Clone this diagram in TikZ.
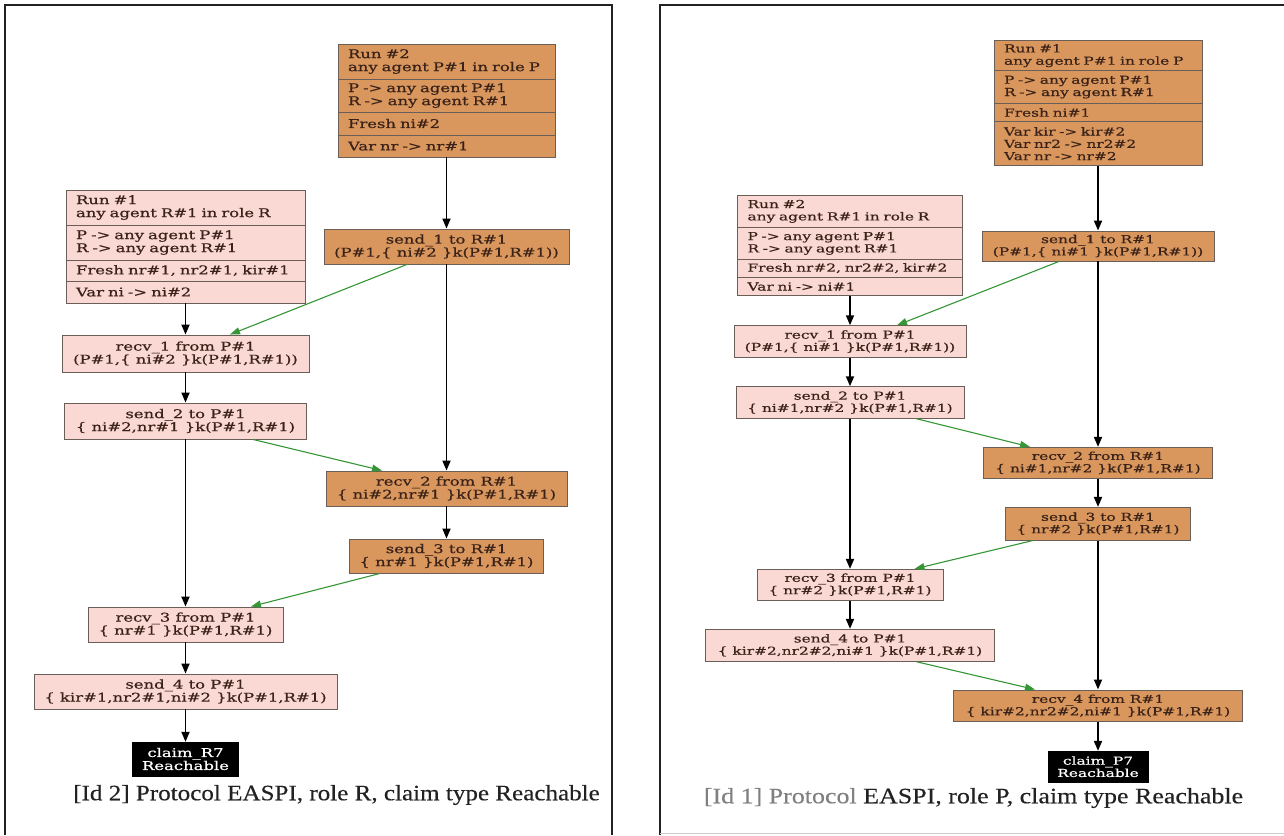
\documentclass[tikz,border=0pt]{standalone}
\usepackage{fontspec}
\usetikzlibrary{arrows.meta}
\newfontfamily\gvL[FakeStretch=1.37,FakeBold=0.6]{DejaVu Serif}
\newfontfamily\gvR[FakeStretch=1.40,FakeBold=0.6]{DejaVu Serif}
\newfontfamily\capF[FakeStretch=1.14,FakeBold=0.3]{Liberation Serif}
\newfontfamily\capG[FakeStretch=1.18,FakeBold=0.3]{Liberation Serif}
\newcommand\ftL{\gvL\fontsize{12pt}{13pt}\selectfont}
\newcommand\ftR{\gvR\fontsize{11pt}{12.3pt}\selectfont}
\newcommand\nw[1]{\mbox{#1}}
\definecolor{orf}{HTML}{D9975E}
\definecolor{pkf}{HTML}{FAD9D5}
\definecolor{bl}{HTML}{6A5F58}
\definecolor{tx}{HTML}{3A2218}
\definecolor{gr}{HTML}{359635}
\definecolor{frm}{HTML}{222222}
\tikzset{
  box/.style={draw=bl, line width=0.9pt, inner sep=0pt, text=tx, align=center},
  pk/.style={box, fill=pkf},
  og/.style={box, fill=orf},
  sz/.style 2 args={minimum width=#1pt, minimum height=#2pt},
  rowl/.style={inner xsep=10pt, align=left, text width=#1pt},
  claimbox/.style={fill=black, draw=black, text=white, inner sep=0pt, align=center},
  flow/.style={draw=black, line width=1.8pt, -{Triangle[length=10pt,width=8pt]}},
  msg/.style={draw=gr, line width=1.1pt, -{Triangle[length=10pt,width=7pt]}},
  Lf/.style={font=\ftL},
  Rf/.style={font=\ftR},
}
\begin{document}
\begin{tikzpicture}[x=1pt,y=-1pt]
\useasboundingbox (0,0) rectangle (1284,835);
\fill[white] (0,0) rectangle (1284,835);
% panel frames
\draw[frm, line width=2pt] (5,835) -- (5,5) -- (612,5) -- (612,835);
\draw[frm, line width=2pt] (660,835) -- (660,5) -- (1284,5);
\draw[gray!40, line width=1pt] (660,833) -- (1284,833);

% ================= LEFT PANEL =================
\begin{scope}[every node/.append style={Lf}]
\node[og, sz={217}{35}, rowl=197] (lpA) at (446.5,61.5) {\nw{Run \#2}\\\nw{any agent P\#1 in role P}};
\node[og, sz={217}{33}, rowl=197] (lpB) at (446.5,95.5) {\nw{P -> any agent P\#1}\\\nw{R -> any agent R\#1}};
\node[og, sz={217}{23}, rowl=197] (lpC) at (446.5,123.5) {\nw{Fresh ni\#2}};
\node[og, sz={217}{22}, rowl=197] (lpD) at (446.5,146) {\nw{Var nr -> nr\#1}};
\node[og, sz={245}{35}] (lsend1) at (446.5,246.5) {send\_1 to R\#1\\(P\#1,\{ ni\#2 \}k(P\#1,R\#1))};

\node[pk, sz={239}{35}, rowl=219] (lrA) at (185.5,207.5) {\nw{Run \#1}\\\nw{any agent R\#1 in role R}};
\node[pk, sz={239}{35}, rowl=219] (lrB) at (185.5,242.5) {\nw{P -> any agent P\#1}\\\nw{R -> any agent R\#1}};
\node[pk, sz={239}{21}, rowl=219] (lrC) at (185.5,270.5) {\nw{Fresh nr\#1, nr2\#1, kir\#1}};
\node[pk, sz={239}{22}, rowl=219] (lrD) at (185.5,292) {\nw{Var ni -> ni\#2}};

\node[pk, sz={247}{37}] (lrecv1) at (185.5,353.5) {recv\_1 from P\#1\\(P\#1,\{ ni\#2 \}k(P\#1,R\#1))};
\node[pk, sz={242}{36}] (lsend2) at (185.5,421) {send\_2 to P\#1\\\{ ni\#2,nr\#1 \}k(P\#1,R\#1)};
\node[og, sz={241}{35}] (lrecv2) at (446.5,488.5) {recv\_2 from R\#1\\\{ ni\#2,nr\#1 \}k(P\#1,R\#1)};
\node[og, sz={194}{34}] (lsend3) at (446.5,556) {send\_3 to R\#1\\\{ nr\#1 \}k(P\#1,R\#1)};
\node[pk, sz={195}{35}] (lrecv3) at (185.5,624.5) {recv\_3 from P\#1\\\{ nr\#1 \}k(P\#1,R\#1)};
\node[pk, sz={303}{35}] (lsend4) at (185.5,691.5) {send\_4 to P\#1\\\{ kir\#1,nr2\#1,ni\#2 \}k(P\#1,R\#1)};
\node[claimbox, sz={106}{34}] (lclaim) at (185.5,759) {claim\_R7\\Reachable};
\end{scope}

\draw[flow] (lpD.south) -- (lsend1.north);
\draw[flow] (lrD.south) -- (lrecv1.north);
\draw[flow] (lrecv1.south) -- (lsend2.north);
\draw[flow] (lsend2.south) -- (lrecv3.north);
\draw[flow] (lsend1.south) -- (lrecv2.north);
\draw[flow] (lrecv2.south) -- (lsend3.north);
\draw[flow] (lrecv3.south) -- (lsend4.north);
\draw[flow] (lsend4.south) -- (lclaim.north);

\draw[msg] ([xshift=-39.5pt]lsend1.south) -- ([xshift=44.5pt]lrecv1.north);
\draw[msg] ([xshift=67.5pt]lsend2.south) -- ([xshift=-64.5pt]lrecv2.north);
\draw[msg] ([xshift=-66.5pt]lsend3.south) -- ([xshift=65.5pt]lrecv3.north);

\node[inner sep=0pt, font=\capF\fontsize{22pt}{26pt}\selectfont, text=frm] (lcap) at (336.5,795) {[Id 2] Protocol EASPI, role R, claim type Reachable};

% ================= RIGHT PANEL =================
\begin{scope}[every node/.append style={Rf}]
\node[og, sz={208}{30}, rowl=188] (rpA) at (1098,55.7) {\nw{Run \#1}\\\nw{any agent P\#1 in role P}};
\node[og, sz={208}{32.6}, rowl=188] (rpB) at (1098,87) {\nw{P -> any agent P\#1}\\\nw{R -> any agent R\#1}};
\node[og, sz={208}{18.4}, rowl=188] (rpC) at (1098,112.5) {\nw{Fresh ni\#1}};
\node[og, sz={208}{44}, rowl=188] (rpD) at (1098,143.7) {\nw{Var kir -> kir\#2}\\\nw{Var nr2 -> nr2\#2}\\\nw{Var nr -> nr\#2}};
\node[og, sz={232}{30}] (rsend1) at (1098,246) {send\_1 to R\#1\\(P\#1,\{ ni\#1 \}k(P\#1,R\#1))};

\node[pk, sz={225}{32.7}, rowl=205] (rrA) at (850,211.35) {\nw{Run \#2}\\\nw{any agent R\#1 in role R}};
\node[pk, sz={225}{31.3}, rowl=205] (rrB) at (850,243.35) {\nw{P -> any agent P\#1}\\\nw{R -> any agent R\#1}};
\node[pk, sz={225}{18.3}, rowl=205] (rrC) at (850,268.15) {\nw{Fresh nr\#2, nr2\#2, kir\#2}};
\node[pk, sz={225}{18.4}, rowl=205] (rrD) at (850,286.5) {\nw{Var ni -> ni\#1}};

\node[pk, sz={232}{31.6}] (rrecv1) at (850,341.5) {recv\_1 from P\#1\\(P\#1,\{ ni\#1 \}k(P\#1,R\#1))};
\node[pk, sz={228}{31.6}] (rsend2) at (850,402.5) {send\_2 to P\#1\\\{ ni\#1,nr\#2 \}k(P\#1,R\#1)};
\node[og, sz={229}{31}] (rrecv2) at (1098,462.8) {recv\_2 from R\#1\\\{ ni\#1,nr\#2 \}k(P\#1,R\#1)};
\node[og, sz={185}{32.7}] (rsend3) at (1098,523.7) {send\_3 to R\#1\\\{ nr\#2 \}k(P\#1,R\#1)};
\node[pk, sz={186}{30.7}] (rrecv3) at (850,584.7) {recv\_3 from P\#1\\\{ nr\#2 \}k(P\#1,R\#1)};
\node[pk, sz={289.5}{32}] (rsend4) at (850,645.3) {send\_4 to P\#1\\\{ kir\#2,nr2\#2,ni\#1 \}k(P\#1,R\#1)};
\node[og, sz={289.5}{31.7}] (rrecv4) at (1098,705.8) {recv\_4 from R\#1\\\{ kir\#2,nr2\#2,ni\#1 \}k(P\#1,R\#1)};
\node[claimbox, sz={100}{31.3}] (rclaim) at (1098,766.7) {claim\_P7\\Reachable};
\end{scope}

\draw[flow] (rpD.south) -- (rsend1.north);
\draw[flow] (rrD.south) -- (rrecv1.north);
\draw[flow] (rrecv1.south) -- (rsend2.north);
\draw[flow] (rsend2.south) -- (rrecv3.north);
\draw[flow] (rsend1.south) -- (rrecv2.north);
\draw[flow] (rrecv2.south) -- (rsend3.north);
\draw[flow] (rsend3.south) -- (rrecv4.north);
\draw[flow] (rrecv3.south) -- (rsend4.north);
\draw[flow] (rrecv4.south) -- (rclaim.north);

\draw[msg] ([xshift=-39pt]rsend1.south) -- ([xshift=47pt]rrecv1.north);
\draw[msg] ([xshift=66.5pt]rsend2.south) -- ([xshift=-68pt]rrecv2.north);
\draw[msg] ([xshift=-65pt]rsend3.south) -- ([xshift=64.5pt]rrecv3.north);
\draw[msg] ([xshift=66.5pt]rsend4.south) -- ([xshift=-63pt]rrecv4.north);

\node[inner sep=0pt, font=\capG\fontsize{22pt}{26pt}\selectfont, text=frm] (rcap) at (973.5,798) {{\color{gray}[Id 1] Protocol} EASPI, role P, claim type Reachable};
\end{tikzpicture}
\end{document}
